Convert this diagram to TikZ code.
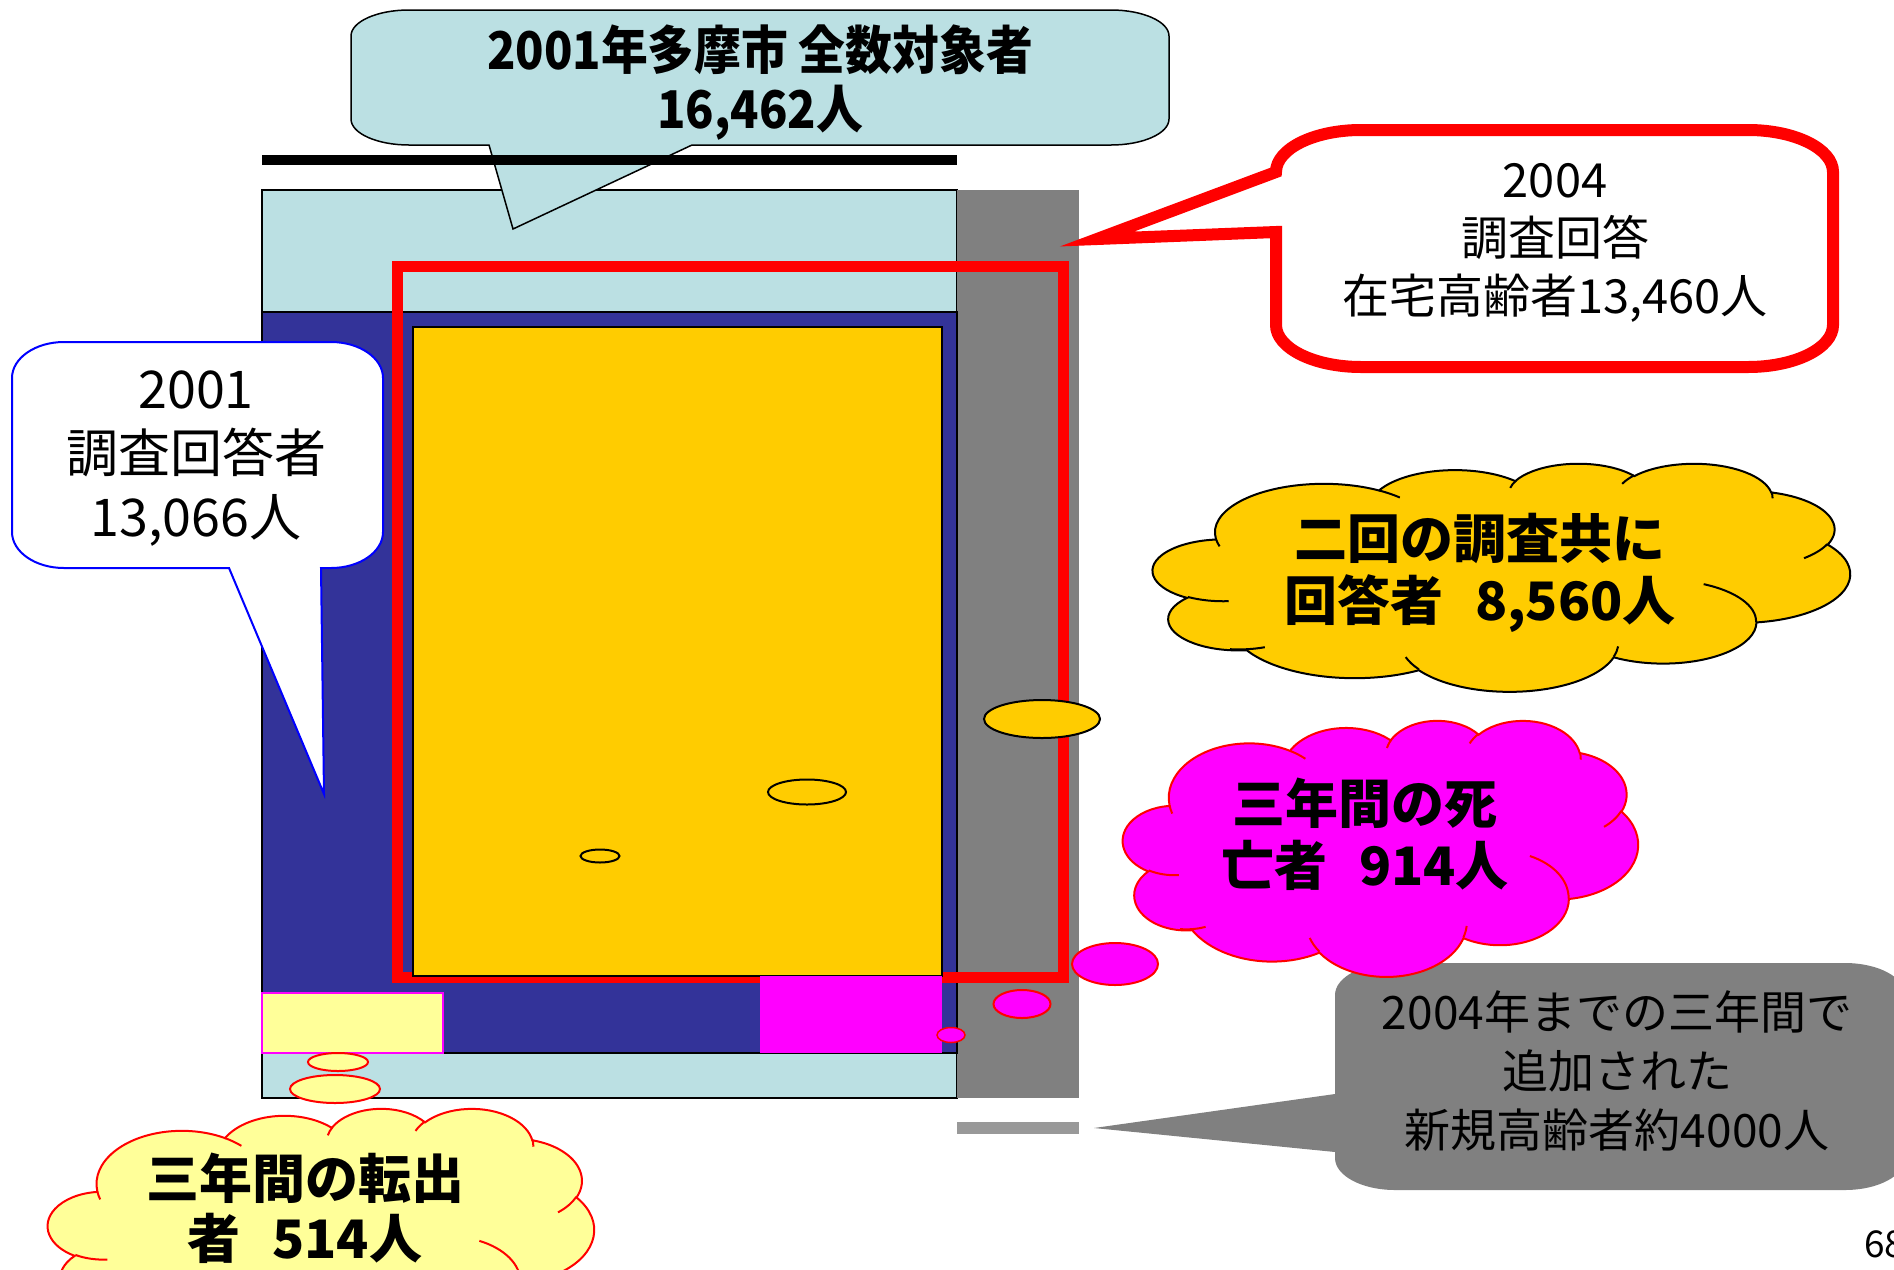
\documentclass[tikz,border=0pt]{standalone}
\usepackage{fontspec}
\setmainfont{Noto Sans CJK JP}
\newfontfamily\jpcond[FakeStretch=0.9]{Noto Sans CJK JP}
\definecolor{lblue}{RGB}{187,224,227}
\definecolor{navy}{RGB}{51,51,153}
\definecolor{gold}{RGB}{255,204,0}
\definecolor{midgrey}{RGB}{128,128,128}
\definecolor{bargrey}{RGB}{153,153,153}
\definecolor{pale}{RGB}{255,255,153}
\definecolor{pink}{RGB}{255,0,255}
\definecolor{pred}{RGB}{255,0,0}
\definecolor{pblue}{RGB}{0,0,255}
\tikzset{
  oarc/.style n args={4}{insert path={arc[x radius=#1, y radius=#2,
     start angle={atan2((#1)*sin(#3),(#2)*cos(#3))},
     delta angle={mod(atan2((#1)*sin((#3)+(#4)),(#2)*cos((#3)+(#4)))-atan2((#1)*sin(#3),(#2)*cos(#3))+720,360)}]}},
  txt/.style={inner sep=0pt, align=center, text=black},
}
\newcommand\cloudmain[1]{%
  \path[#1] (39,143.7) [oarc={67.53}{91.90}{-190.4875}{123.7805}]
    [oarc={53.33}{72.67}{-144.1024}{89.9452}]
    [oarc={43.65}{59.45}{-145.8079}{99.7230}]
    [oarc={48.57}{65.95}{-130.9861}{117.2417}]
    [oarc={53.33}{72.73}{-78.7089}{109.0269}]
    [oarc={67.75}{92.20}{-46.2673}{130.2690}]
    [oarc={57.85}{78.67}{0.6250}{114.0333}]
    [oarc={67.52}{92.15}{22.4516}{115.1726}]
    [oarc={77.20}{105.43}{66.2426}{75.7110}]
    [oarc={43.60}{59.18}{-274.9421}{146.7356}]
    [oarc={43.45}{59.45}{-246.8285}{152.5189}] -- cycle;}
\newcommand\cloudinner[1]{%
  \path[#1] (46.93,261.77) [oarc={43.45}{59.45}{86.742}{26.4295}]
    (69.28,348.99) [oarc={43.60}{59.18}{73.6027}{21.5434}]
    (164.78,390.90) [oarc={67.52}{92.15}{137.6242}{18.7806}]
    (288.27,347.51) [oarc={67.52}{92.15}{6.4533}{15.9984}]
    (341.29,229.54) [oarc={57.85}{78.67}{-70.2924}{70.9174}]
    (417.98,153.54) [oarc={53.33}{72.73}{30.318}{27.7515}]
    (383.24,54.26) [oarc={48.57}{65.95}{-13.7443}{14.8589}]
    (290.78,39.52) [oarc={48.57}{65.95}{-149.1815}{18.1954}]
    (221.41,47.20) [oarc={43.65}{59.45}{-163.4943}{17.6864}]
    (140.00,51.92) [oarc={67.53}{91.90}{-66.7070}{12.3194}]
    (41.27,157.89) [oarc={67.53}{91.90}{157.6544}{11.8582}];}
\begin{document}
\begin{tikzpicture}[x=1pt,y=-1pt]
\useasboundingbox (0,0) rectangle (1894,1269);
\fill[white] (0,0) rectangle (1894,1269);
% main blocks
\draw[fill=lblue, line width=2] (262,190) rectangle (957,1098);
\fill[midgrey] (957,190) rectangle (1079,1098);
\draw[fill=navy, line width=2] (262,312) rectangle (957,1053);
\draw[pred, line width=11, line join=miter] (397.5,266.5) rectangle (1063.5,977);
\draw[fill=gold, line width=2.5] (413,327) rectangle (942,976);
\fill[pink] (760,976) rectangle (942,1053);
\draw[fill=pale, draw=pink, line width=2] (262,993) rectangle (443,1053);
% ellipses
\draw[fill=gold, line width=2] (1042,719) ellipse[x radius=58, y radius=19];
\draw[line width=2] (807,792) ellipse[x radius=39, y radius=12.5];
\draw[line width=2] (600,856) ellipse[x radius=19.5, y radius=6.5];
\draw[fill=pink, draw=pred, line width=2] (1115,964) ellipse[x radius=43, y radius=21];
\draw[fill=pink, draw=pred, line width=2] (1022,1004) ellipse[x radius=28.5, y radius=14];
\draw[fill=pink, draw=pred, line width=1.5] (951,1035) ellipse[x radius=14, y radius=7.5];
\draw[fill=pale, draw=pred, line width=2] (338,1062) ellipse[x radius=30, y radius=9];
\draw[fill=pale, draw=pred, line width=2] (335,1089) ellipse[x radius=45, y radius=14];
% grey small bar
\fill[bargrey] (957,1122) rectangle (1079,1134);
% grey callout
\fill[midgrey] (1395,963) -- (1845,963) arc[start angle=-90,end angle=0,x radius=60,y radius=32]
  -- (1905,1158) arc[start angle=0,end angle=90,x radius=60,y radius=32]
  -- (1395,1190) arc[start angle=90,end angle=180,x radius=60,y radius=32]
  -- (1335,1152) -- (1094,1128) -- (1335,1094)
  -- (1335,995) arc[start angle=180,end angle=270,x radius=60,y radius=32] -- cycle;
\node[txt, font=\fontsize{46}{59}\selectfont] (greytext) at (1617,1071) {2004年までの三年間で\\追加された\\新規高齢者約4000人};
% red callout
\draw[fill=white, draw=pred, line width=12, line join=miter] (1361,130) -- (1748,130)
  arc[start angle=-90,end angle=0,x radius=85,y radius=42]
  -- (1833,325) arc[start angle=0,end angle=90,x radius=85,y radius=42]
  -- (1361,367) arc[start angle=90,end angle=180,x radius=85,y radius=42]
  -- (1276,232) -- (1097,239) -- (1276,172)
  arc[start angle=180,end angle=270,x radius=85,y radius=42] -- cycle;
\node[txt, font=\fontsize{47}{58}\selectfont] (redtext) at (1555,243) {2004\\調査回答\\在宅高齢者13,460人};
% left callout
\draw[fill=white, draw=pblue, line width=2] (64,342) -- (331,342)
  arc[start angle=-90,end angle=0,x radius=52,y radius=36]
  -- (383,532) arc[start angle=0,end angle=90,x radius=52,y radius=36]
  -- (321,568) -- (324,794) -- (229,568)
  -- (64,568) arc[start angle=90,end angle=180,x radius=52,y radius=36]
  -- (12,378) arc[start angle=180,end angle=270,x radius=52,y radius=36] -- cycle;
\node[txt, font=\fontsize{52}{64}\selectfont] (lefttext) at (196,459) {2001\\調査回答者\\13,066人};
% top callout
\draw[fill=lblue, line width=1.5] (409,10) -- (1111,10)
  arc[start angle=-90,end angle=0,x radius=58,y radius=26]
  -- (1169,119) arc[start angle=0,end angle=90,x radius=58,y radius=26]
  -- (692,145) -- (513,229) -- (489,145)
  -- (409,145) arc[start angle=90,end angle=180,x radius=58,y radius=26]
  -- (351,36) arc[start angle=180,end angle=270,x radius=58,y radius=26] -- cycle;
\node[txt, font=\jpcond\bfseries\fontsize{52}{59}\selectfont] (toptext) at (760,83) {2001年多摩市 全数対象者\\16,462人};
\fill[black] (262,155) rectangle (957,165);
% yellow cloud
\begin{scope}[shift={(1153,463)}, xscale=1.6134, yscale=0.5278]
  \cloudmain{fill=gold, draw=black, line width=2}
  \cloudinner{draw=black, line width=2}
\end{scope}
\node[txt, font=\bfseries\fontsize{53}{62}\selectfont] (yellowtext) at (1480,573) {二回の調査共に\\回答者\hspace*{0.6em}8,560人};
% magenta cloud
\begin{scope}[shift={(1123,720)}, xscale=1.1921, yscale=0.5926]
  \cloudmain{fill=pink, draw=pred, line width=2}
  \cloudinner{draw=pred, line width=2}
\end{scope}
\node[txt, font=\bfseries\fontsize{53}{62}\selectfont] (magtext) at (1365,834) {三年間の死\\亡者\hspace*{0.6em}914人};
% pale cloud
\begin{scope}[shift={(48,1108)}, xscale=1.2639, yscale=0.5787]
  \cloudmain{fill=pale, draw=pred, line width=2}
  \cloudinner{draw=pred, line width=2}
\end{scope}
\node[txt, font=\bfseries\fontsize{53}{60}\selectfont] (paletext) at (305,1208) {三年間の転出\\者\hspace*{0.6em}514人};
\node[txt, anchor=west, font=\fontsize{37}{44}\selectfont] (pagenum) at (1864,1244) {68};
\end{tikzpicture}
\end{document}
